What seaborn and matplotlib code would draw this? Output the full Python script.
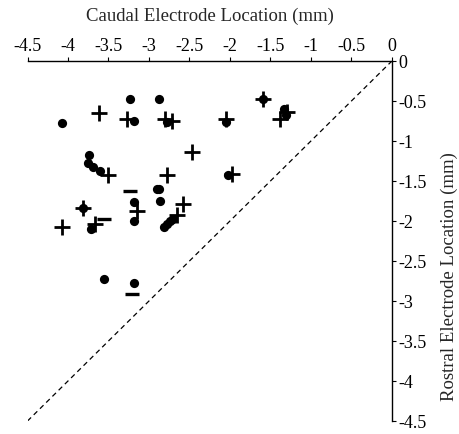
import matplotlib
matplotlib.use("Agg")
import matplotlib.pyplot as plt
import seaborn as sns
import pandas as pd

# Data (caudal x, rostral y) in mm
circle_x = [-4.07, -3.23, -3.19, -2.88, -2.78, -2.05, -1.59, -1.33, -1.31,
            -3.74, -3.75, -3.69, -3.60, -3.19, -3.19, -2.90, -3.81, -3.71,
            -2.03, -2.88, -2.86, -2.82, -2.78, -2.74, -2.70, -3.56, -3.19]
circle_y = [-0.78, -0.475, -0.75, -0.475, -0.76, -0.76, -0.47, -0.60, -0.68,
            -1.18, -1.27, -1.33, -1.37, -1.76, -2.00, -1.60, -1.84, -2.10,
            -1.42, -1.60, -1.75, -2.08, -2.04, -2.00, -1.97, -2.72, -2.77]

plus_x = [-3.62, -3.27, -2.80, -2.72, -2.05, -1.59, -1.38, -1.30,
          -3.50, -3.15, -3.81, -4.07, -3.67, -2.47, -2.78, -1.98, -2.58, -2.66]
plus_y = [-0.65, -0.725, -0.73, -0.75, -0.73, -0.47, -0.72, -0.64,
          -1.43, -1.88, -1.84, -2.08, -2.04, -1.14, -1.43, -1.41, -1.79, -1.93]

minus_x = [-3.23, -3.56, -3.21]
minus_y = [-1.63, -1.97, -2.91]

diag = [0, -4.5]
xticks = [-4.5, -4, -3.5, -3, -2.5, -2, -1.5, -1, -0.5, 0]
yticks = [0, -0.5, -1, -1.5, -2, -2.5, -3, -3.5, -4, -4.5]

sns.set_style("white")
plt.rcParams['font.family'] = ['Liberation Serif', 'DejaVu Serif']
plt.rcParams['axes.unicode_minus'] = False

fig = plt.figure(figsize=(4.6, 4.35), dpi=100)
ax = fig.add_axes([0.0598, 0.0299, 0.7922, 0.8276])

sns.lineplot(x=diag, y=diag, ax=ax, color="black", linestyle=(0, (4, 3)),
             linewidth=0.9)
sns.scatterplot(x=circle_x, y=circle_y, ax=ax, marker="o", s=44,
                color="black", edgecolor="black", linewidth=0, zorder=3)
sns.scatterplot(x=plus_x, y=plus_y, ax=ax, marker="+", s=130,
                color="black", linewidth=2.0, zorder=3)
sns.scatterplot(x=minus_x, y=minus_y, ax=ax, marker="_", s=90,
                color="black", linewidth=2.4, zorder=3)

ax.set_xlim(-4.5, 0)
ax.set_ylim(-4.5, 0)
ax.set_xticks(xticks)
ax.set_xticklabels([f"{t:g}" for t in xticks])
ax.set_yticks(yticks)
ax.set_yticklabels([f"{t:g}" for t in yticks])

ax.xaxis.tick_top()
ax.xaxis.set_label_position("top")
ax.yaxis.tick_right()
ax.yaxis.set_label_position("right")
for s in ["left", "bottom"]:
    ax.spines[s].set_visible(False)
for s in ["top", "right"]:
    ax.spines[s].set_visible(True)
    ax.spines[s].set_color("black")
    ax.spines[s].set_linewidth(1.0)

ax.tick_params(axis="both", direction="out", length=3, width=0.8,
               colors="black", labelsize=13, pad=2)
ax.tick_params(axis="x", top=True, bottom=False, labeltop=True, labelbottom=False)
ax.tick_params(axis="y", right=True, left=False, labelright=True, labelleft=False)

ax.set_xlabel("Caudal Electrode Location (mm)", fontsize=13.5, labelpad=12)
ax.set_ylabel("Rostral Electrode Location (mm)", fontsize=13.5, rotation=90)
ax.yaxis.set_label_coords(1.135, 0.405)

fig.savefig("out.png", dpi=100)
